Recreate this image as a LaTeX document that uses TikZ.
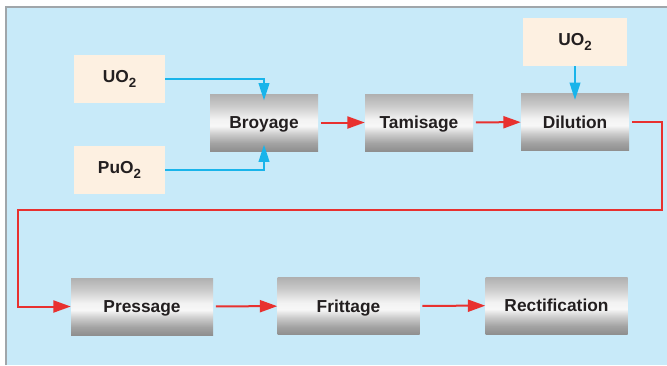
\documentclass[tikz,border=0pt]{standalone}
\usepackage{fontspec}
\setmainfont{Liberation Sans}
\usetikzlibrary{arrows.meta}
\definecolor{bgblue}{HTML}{C8EAF9}
\definecolor{frameg}{HTML}{A0A6AA}
\definecolor{cream}{HTML}{FDF0E1}
\definecolor{flowred}{HTML}{E8312F}
\definecolor{feedblue}{HTML}{19B4EA}
\definecolor{inkdark}{HTML}{231F20}
\pgfdeclareverticalshading{steel}{100bp}{%
  color(0bp)=(black!44!white); color(25bp)=(black!44!white);
  color(32bp)=(black!36!white); color(40bp)=(black!20!white);
  color(47bp)=(black!3!white); color(53bp)=(black!5!white);
  color(65bp)=(black!21!white); color(75bp)=(black!31!white);
  color(100bp)=(black!31!white)}
\newcommand{\chemsub}[1]{\raisebox{-4pt}{\fontsize{10}{10}\selectfont #1}}
\tikzset{
  feed/.style={fill=cream, minimum width=68pt, minimum height=36pt, inner sep=0pt,
    font=\fontsize{13}{14}\selectfont\bfseries, text=inkdark},
  stage/.style={shading=steel, minimum width=81pt, minimum height=42.75pt, inner sep=0pt,
    font=\fontsize{13}{14}\selectfont\bfseries, text=inkdark, text height=9.6pt, text depth=0pt},
  widestage/.style={stage, minimum width=106.5pt},
  flow/.style={flowred, line width=1.5pt, -{Triangle[length=13pt,width=9pt]}, shorten <=2pt},
  feedline/.style={feedblue, line width=1.5pt, -{Triangle[length=13pt,width=8pt]}, shorten >=-5pt}
}
\begin{document}
\begin{tikzpicture}[x=0.75pt, y=-0.75pt]
  \useasboundingbox (0,0) rectangle (667,365);
  \fill[bgblue] (6,7) rectangle (667,365);
  \draw[frameg, line width=1.2pt] (6,365) -- (6,7) -- (667,7);

  \node[feed] (uoA) at (119.5,79) {UO\chemsub{2}};
  \node[feed] (puo) at (119.5,170) {PuO\chemsub{2}};
  \node[feed, minimum width=78pt] (uoB) at (575,42) {UO\chemsub{2}};

  \node[stage] (bro) at (264,122.5) {Broyage};
  \node[stage] (tam) at (419,122.5) {Tamisage};
  \node[stage] (dil) at (575,122) {Dilution};
  \node[widestage] (pre) at (142,306.5) {Pressage};
  \node[widestage] (fri) at (348.5,306) {Frittage};
  \node[widestage] (rec) at (556.5,305.5) {Rectification};

  \coordinate (turnR) at (662,210);
  \coordinate (turnL) at (18,210);

  \draw[feedline] (uoA.east) -| (bro.north);
  \draw[feedline] (puo.east) -| (bro.south);
  \draw[feedline] (uoB) -- (dil);

  \draw[flow] (bro) -- (tam);
  \draw[flow] (tam) -- (dil);
  \draw[flow] (dil.east) -| (turnR) -- (turnL) |- (pre.west);
  \draw[flow] (pre) -- (fri);
  \draw[flow] (fri) -- (rec);
\end{tikzpicture}
\end{document}
